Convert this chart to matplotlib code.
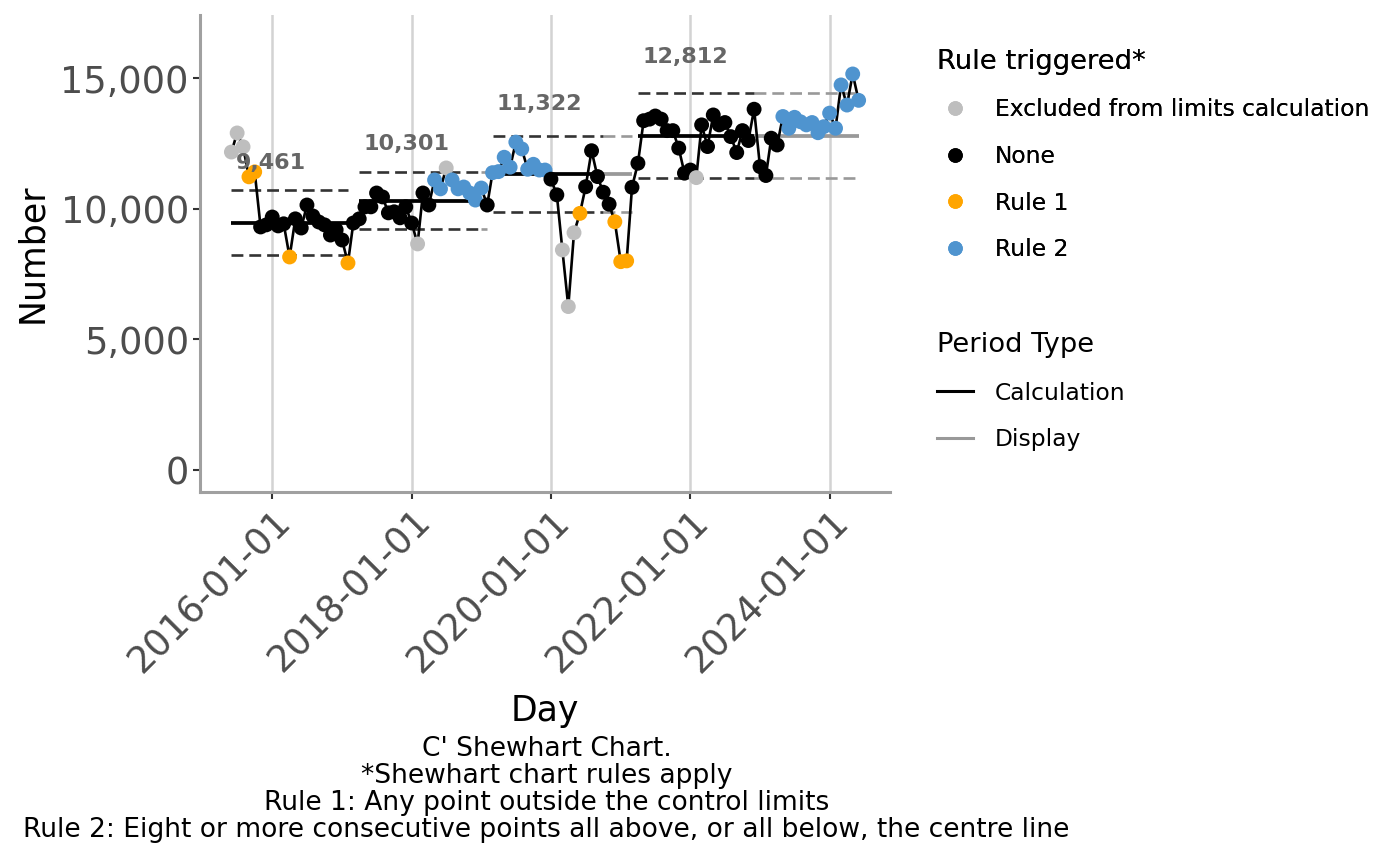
import numpy as np
import pandas as pd
import matplotlib
matplotlib.use("Agg")
import matplotlib.pyplot as plt
import matplotlib.dates as mdates
from matplotlib.lines import Line2D
from matplotlib.ticker import FuncFormatter

plt.rcParams['font.family'] = ['DejaVu Sans']

# monthly values, 2015-06 .. 2024-06
dates = pd.date_range('2015-06-01', periods=109, freq='MS')
values = [
    12180, 12910, 12380, 11230, 11420, 9310, 9390, 9690, 9350, 9430,
    8160, 9620, 9270, 10150, 9730, 9500, 9390, 9000, 9200, 8810,
    7930, 9460, 9620, 10080, 10080, 10610, 10460, 9850, 9890, 9660,
    10080, 9460, 8660, 10610, 10150, 11110, 10770, 11570, 11110, 10770,
    10840, 10610, 10340, 10800, 10150, 11390, 11430, 11980, 11600, 12560,
    12300, 11520, 11710, 11490, 11490, 11140, 10540, 8430, 6260, 9090,
    9830, 10850, 12230, 11240, 10640, 10180, 9510, 7980, 8010, 10830,
    11750, 13380, 13440, 13560, 13440, 13000, 13000, 12330, 11370, 11490,
    11200, 13220, 12390, 13600, 13220, 13310, 12770, 12160, 13000, 12620,
    13820, 11620, 11280, 12710, 12450, 13540, 13090, 13510, 13340, 13220,
    13310, 12920, 13150, 13670, 13090, 14750, 13980, 15170, 14160,
]
# G = excluded, N = none, O = rule 1, B = rule 2 (one string per period)
rules = list(
    "GGGOO" "NNNNN" "O" "NNNNNNNNN" "O"
    + "NNNNNNNNNNN" "G" "NN" "BB" "G" "BBBBBB" "N"
    + "BBBBBBBBBB" "NN" "GGG" "O" "NNNNN" "OOO" "N"
    + "NNNNNNNNNN" "G" "NNNNNNNNNNNNNN" "BBBBBBBBBBBBBB"
)

period_start = pd.to_datetime(['2015-06-01', '2017-04-01', '2019-03-01', '2021-04-01'])
period_calc_end = pd.to_datetime(['2017-02-01', '2019-01-01', '2020-10-01', '2022-12-01'])
period_end = pd.to_datetime(['2017-02-01', '2019-02-01', '2021-03-01', '2024-06-01'])
centre = [9461, 10301, 11322, 12812]
ucl = [10730, 11410, 12790, 14460]
lcl = [8240, 9220, 9870, 11200]

rule_names = {'G': 'Excluded from limits calculation', 'N': 'None',
              'O': 'Rule 1', 'B': 'Rule 2'}
rule_colors = {'G': '#BEBEBE', 'N': '#000000', 'O': '#FFA500', 'B': '#4F94CF'}

calc_col = '#000000'
disp_col = '#999999'
lim_calc_col = '#333333'

fig = plt.figure(figsize=(14, 8.66), dpi=100)
ax = fig.add_axes([0.1429, 0.4319, 0.4928, 0.5508])

dash = (0, (4.5, 2.25))
for i in range(len(centre)):
    # display part (grey)
    xs = [period_calc_end[i], period_end[i]]
    if period_end[i] > period_calc_end[i]:
        ax.plot(xs, [centre[i]] * 2, color=disp_col, lw=2.7, solid_capstyle='butt', zorder=2)
        ax.plot(xs, [ucl[i]] * 2, color=disp_col, lw=1.9, ls=dash, zorder=2)
        ax.plot(xs, [lcl[i]] * 2, color=disp_col, lw=1.9, ls=dash, zorder=2)
    # calculation part
    xs = [period_start[i], period_calc_end[i]]
    ax.plot(xs, [centre[i]] * 2, color=calc_col, lw=2.7, solid_capstyle='butt', zorder=2)
    ax.plot(xs, [ucl[i]] * 2, color=lim_calc_col, lw=1.9, ls=dash, zorder=2)
    ax.plot(xs, [lcl[i]] * 2, color=lim_calc_col, lw=1.9, ls=dash, zorder=2)
    ax.annotate(f"{centre[i]:,}", (period_start[i], ucl[i] * 1.095),
                xytext=(3, 0), textcoords='offset points', ha='left', va='center',
                fontsize=16, fontweight='bold', color='#666666', zorder=5)

ax.plot(dates, values, color='black', lw=1.9, zorder=3)
ax.scatter(dates, values, c=[rule_colors[r] for r in rules], s=115, zorder=4,
           edgecolors='none')

# axes
span = dates[-1] - dates[0]
ax.set_xlim(dates[0] - span * 0.05, dates[-1] + span * 0.05)
ax.set_ylim(-843, 17430)
ax.set_xticks(pd.to_datetime(['2016-01-01', '2018-01-01', '2020-01-01',
                              '2022-01-01', '2024-01-01']))
ax.xaxis.set_major_formatter(mdates.DateFormatter('%Y-%m-%d'))
ax.set_yticks([0, 5000, 10000, 15000])
ax.yaxis.set_major_formatter(FuncFormatter(lambda v, p: f"{int(v):,}"))
ax.grid(axis='x', color='#D3D3D3', lw=1.8, zorder=0)
ax.set_axisbelow(True)
for s in ['top', 'right']:
    ax.spines[s].set_visible(False)
for s in ['left', 'bottom']:
    ax.spines[s].set_color('#A0A0A0')
    ax.spines[s].set_linewidth(2.2)
ax.tick_params(axis='both', colors='#333333', labelcolor='#4D4D4D',
               length=5, width=1.5, labelsize=26.5, pad=3)
for lab in ax.get_xticklabels():
    lab.set_rotation(45)
    lab.set_ha('right')
    lab.set_va('top')
    lab.set_rotation_mode('anchor')
ax.set_xlabel('Day', fontsize=25, labelpad=10)
ax.set_ylabel('Number', fontsize=25, labelpad=8)

# legends
h1 = [Line2D([], [], ls='none', marker='o', markersize=10.5,
             markerfacecolor=rule_colors[k], markeredgecolor='none',
             label=rule_names[k]) for k in ['G', 'N', 'O', 'B']]
leg1 = fig.legend(handles=h1, title='Rule triggered*', loc='upper left',
                  bbox_to_anchor=(0.6691, 0.9435), frameon=False, fontsize=16.8,
                  title_fontsize=19.7, alignment='left', handlelength=1.55,
                  handletextpad=0.95, labelspacing=1.01, borderpad=0, borderaxespad=0)
h2 = [Line2D([], [], color=calc_col, lw=2.2, label='Calculation'),
      Line2D([], [], color=disp_col, lw=2.2, label='Display')]
leg2 = fig.legend(handles=h2, title='Period Type', loc='upper left',
                  bbox_to_anchor=(0.6691, 0.6166), frameon=False, fontsize=16.8,
                  title_fontsize=19.7, alignment='left', handlelength=1.55,
                  handletextpad=0.95, labelspacing=1.01, borderpad=0, borderaxespad=0)
fig.add_artist(leg1)

caption = ("C' Shewhart Chart.\n*Shewhart chart rules apply\n"
           "Rule 1: Any point outside the control limits\n"
           "Rule 2: Eight or more consecutive points all above, or all below, the centre line")
fig.text(0.3903, 1 - 736 / 866, caption, ha='center', va='top', fontsize=19.1,
         linespacing=1.05)

fig.savefig('out.png', dpi=100)
